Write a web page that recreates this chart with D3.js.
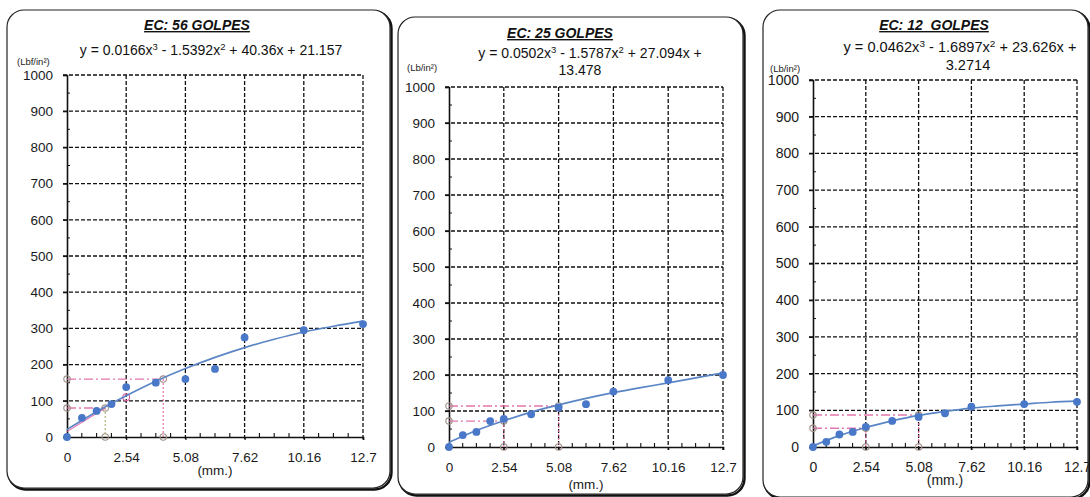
<!DOCTYPE html>
<html><head><meta charset="utf-8">
<script src="https://cdn.jsdelivr.net/npm/d3@7/dist/d3.min.js"></script>
<style>
html,body{margin:0;padding:0;background:#fff;}
svg{display:block;font-family:"Liberation Sans",Arial,sans-serif;}
</style></head>
<body>
<svg id="chart" width="1090" height="497"></svg>
<script>
// ---------- DATA ----------
const xTicks = [0, 2.54, 5.08, 7.62, 10.16, 12.7];
const xTickLabels = ["0", "2.54", "5.08", "7.62", "10.16", "12.7"];
const yTicks = [0, 100, 200, 300, 400, 500, 600, 700, 800, 900, 1000];
const penetration = [0, 0.64, 1.27, 1.91, 2.54, 3.81, 5.08, 6.35, 7.62, 10.16, 12.7];
const load56 = [0, 53, 72, 91, 138, 150, 160, 188, 275, 295, 312];
const load25 = [0, 33, 42, 72, 78, 91, 110, 119, 154, 186, 200];
const load12 = [0, 14, 34, 41, 55, 71, 82, 92, 110, 117, 123];
const trendX = [0, 1.27, 2.54, 3.81, 5.08, 6.35, 7.62, 8.89, 10.16, 11.43, 12.7];
const trend56 = [21, 70, 114, 154, 189, 220, 247, 270, 290, 306, 320];
const trend25 = [13, 46, 73, 97, 117, 135, 151, 165, 178, 192, 206];
const trend12 = [3, 31, 53, 71, 86, 97, 106, 112, 117, 122, 125];
const refX56 = [1.64, 4.13], refY56 = [80, 160];
const refX25 = [2.54, 5.08], refY25 = [72, 114];
const refX12 = [2.54, 5.08], refY12 = [51, 87];
const titles = ["EC: 56 GOLPES", "EC: 25 GOLPES", "EC: 12  GOLPES"];
const equations = [
  [[["y = 0.0166x",""],["3","s"],[" - 1.5392x",""],["2","s"],[" + 40.36x + 21.157",""]]],
  [[["y = 0.0502x",""],["3","s"],[" - 1.5787x",""],["2","s"],[" + 27.094x +",""]],[["13.478",""]]],
  [[["y = 0.0462x",""],["3","s"],[" - 1.6897x",""],["2","s"],[" + 23.626x +",""]],[["3.2714",""]]]
];
const unitLabels = ["(Lbf/in²)", "(Lb/in²)", "(Lb/in²)"];
const xAxisTitle = "(mm.)";

// ---------- LAYOUT ----------
const panels = [
  {box:[7,10,390,488], x0:67, x1:363, yTop:75, yBot:437, tX:197, tY:30, eqX:[211], eqY:[55], eqF:14, uX:17, uY:65, xlY:460, mmY:475,
   load:load56, trend:trend56, rx:refX56, ry:refY56, extra:true},
  {box:[398,17,743,494], x0:449, x1:723, yTop:87, yBot:447, tX:560, tY:38, eqX:[590,580], eqY:[58,75], eqF:14, uX:407, uY:71, xlY:470, mmY:489,
   load:load25, trend:trend25, rx:refX25, ry:refY25},
  {box:[763,10,1088,497], x0:813, x1:1077, yTop:80, yBot:447, tX:934, tY:30, eqX:[960,968], eqY:[52,70], eqF:14.6, uX:770, uY:72, xlY:470, mmY:485,
   load:load12, trend:trend12, rx:refX12, ry:refY12}
];

const svg = d3.select("#chart");
const BLUE = "#4a78c8", LINE = "#5b86c6", PINK = "#e0609f";

panels.forEach((p, i) => {
  const g = svg.append("g");
  const [bx0, by0, bx1, by1] = p.box;
  g.append("rect").attr("x", bx0+1.5).attr("y", by0+1.5).attr("width", bx1-bx0).attr("height", by1-by0)
    .attr("rx", 17).attr("fill", "none").attr("stroke", "#111").attr("stroke-width", 2.4);
  g.append("rect").attr("x", bx0).attr("y", by0).attr("width", bx1-bx0).attr("height", by1-by0)
    .attr("rx", 17).attr("fill", "#fff").attr("stroke", "#222").attr("stroke-width", 1.2);

  const x = d3.scaleLinear().domain([0, 12.7]).range([p.x0, p.x1]);
  const y = d3.scaleLinear().domain([0, 1000]).range([p.yBot, p.yTop]);

  g.selectAll(null).data(yTicks.filter(d => d > 0)).enter().append("line")
    .attr("x1", p.x0 - 4).attr("x2", p.x1).attr("y1", d => y(d)).attr("y2", d => y(d))
    .attr("stroke", "#111").attr("stroke-width", 1.3).attr("stroke-dasharray", "4,2");
  g.selectAll(null).data(xTicks.filter(d => d > 0)).enter().append("line")
    .attr("x1", d => x(d)).attr("x2", d => x(d)).attr("y1", p.yTop).attr("y2", p.yBot + 3)
    .attr("stroke", "#111").attr("stroke-width", 1.3).attr("stroke-dasharray", "4,2");

  const yAxis = d3.axisLeft(y).tickValues(yTicks).tickSize(4).tickPadding(10).tickFormat(d3.format("d"));
  const ya = g.append("g").attr("transform", `translate(${p.x0},0)`).call(yAxis);
  const xAxis = d3.axisBottom(x).tickValues(xTicks).tickSize(3).tickPadding(12).tickFormat((d, k) => xTickLabels[k]);
  const xa = g.append("g").attr("transform", `translate(0,${p.yBot})`).call(xAxis);
  [ya, xa].forEach(a => {
    a.select(".domain").attr("stroke", "#111").attr("stroke-width", 1.6);
    a.selectAll(".tick line").attr("stroke", "#111").attr("stroke-width", 1.2);
    a.selectAll("text").attr("font-size", i === 2 ? 14 : 13.5).attr("fill", "#1a1a1a");
  });
  const minorY = d3.range(50, 1000, 100);
  g.selectAll(null).data(minorY).enter().append("line")
    .attr("x1", p.x0).attr("x2", p.x0 + 3).attr("y1", d => y(d)).attr("y2", d => y(d))
    .attr("stroke", "#111").attr("stroke-width", 1);
  const minorX = d3.range(0, 20).map(k => k * 0.635).filter((d, k) => k % 4 !== 0);
  g.selectAll(null).data(minorX).enter().append("line")
    .attr("x1", d => x(d)).attr("x2", d => x(d)).attr("y1", p.yBot).attr("y2", p.yBot - 4)
    .attr("stroke", "#111").attr("stroke-width", 1.1);

  p.rx.forEach((rx, k) => {
    const ry = p.ry[k];
    g.append("line").attr("x1", x(0)).attr("x2", x(rx)).attr("y1", y(ry)).attr("y2", y(ry))
      .attr("stroke", PINK).attr("stroke-width", 1.4).attr("stroke-dasharray", "9,3,2,3").attr("opacity", 0.85);
    g.append("line").attr("x1", x(rx)).attr("x2", x(rx)).attr("y1", y(ry)).attr("y2", y(0))
      .attr("stroke", (p.extra && k === 0) ? "#a8a860" : PINK).attr("stroke-width", 1.2)
      .attr("stroke-dasharray", "2,2").attr("opacity", 0.85);
    [[0, ry], [rx, ry], [rx, 0]].forEach(c => {
      g.append("circle").attr("cx", x(c[0])).attr("cy", y(c[1])).attr("r", 3.2)
        .attr("fill", "none").attr("stroke", "#a09088").attr("stroke-width", 1.1);
    });
  });
  if (p.extra) {
    g.append("line").attr("x1", x(0)).attr("y1", y(15)).attr("x2", x(refX56[0])).attr("y2", y(refY56[0]))
      .attr("stroke", PINK).attr("stroke-width", 1.2).attr("opacity", 0.8);
    g.append("circle").attr("cx", x(2.54)).attr("cy", y(110)).attr("r", 3.4)
      .attr("fill", "none").attr("stroke", PINK).attr("stroke-width", 1.1);
  }

  const line = d3.line().x(d => x(d[0])).y(d => y(d[1])).curve(d3.curveMonotoneX);
  g.append("path").datum(trendX.map((t, k) => [t, p.trend[k]]))
    .attr("d", line).attr("fill", "none").attr("stroke", LINE).attr("stroke-width", 1.7);

  g.selectAll(null).data(penetration.map((t, k) => [t, p.load[k]])).enter().append("circle")
    .attr("cx", d => x(d[0])).attr("cy", d => y(d[1])).attr("r", 3.9).attr("fill", BLUE);

  g.append("text").attr("x", p.tX).attr("y", p.tY).attr("text-anchor", "middle")
    .attr("font-size", 14).attr("font-weight", "bold").attr("font-style", "italic")
    .attr("text-decoration", "underline").attr("fill", "#111").style("white-space", "pre").text(titles[i]);
  equations[i].forEach((ln, k) => {
    const t = g.append("text").attr("x", p.eqX[k]).attr("y", p.eqY[k]).attr("text-anchor", "middle")
      .attr("font-size", p.eqF).attr("fill", "#111").style("white-space", "pre");
    ln.forEach(seg => {
      if (seg[1] === "s") {
        t.append("tspan").attr("dy", -5).attr("font-size", p.eqF * 0.68).text(seg[0]);
      } else {
        const ts = t.append("tspan").text(seg[0]);
        if (t.selectAll("tspan").size() > 1) ts.attr("dy", 5);
      }
    });
  });
  g.append("text").attr("x", p.uX).attr("y", p.uY).attr("font-size", 9.5).attr("fill", "#222").text(unitLabels[i]);
  g.append("text").attr("x", (p.x0 + p.x1) / 2).attr("y", p.mmY).attr("text-anchor", "middle")
    .attr("font-size", i === 2 ? 14 : 13.5).attr("fill", "#1a1a1a").text(xAxisTitle);
});
</script>
</body></html>
